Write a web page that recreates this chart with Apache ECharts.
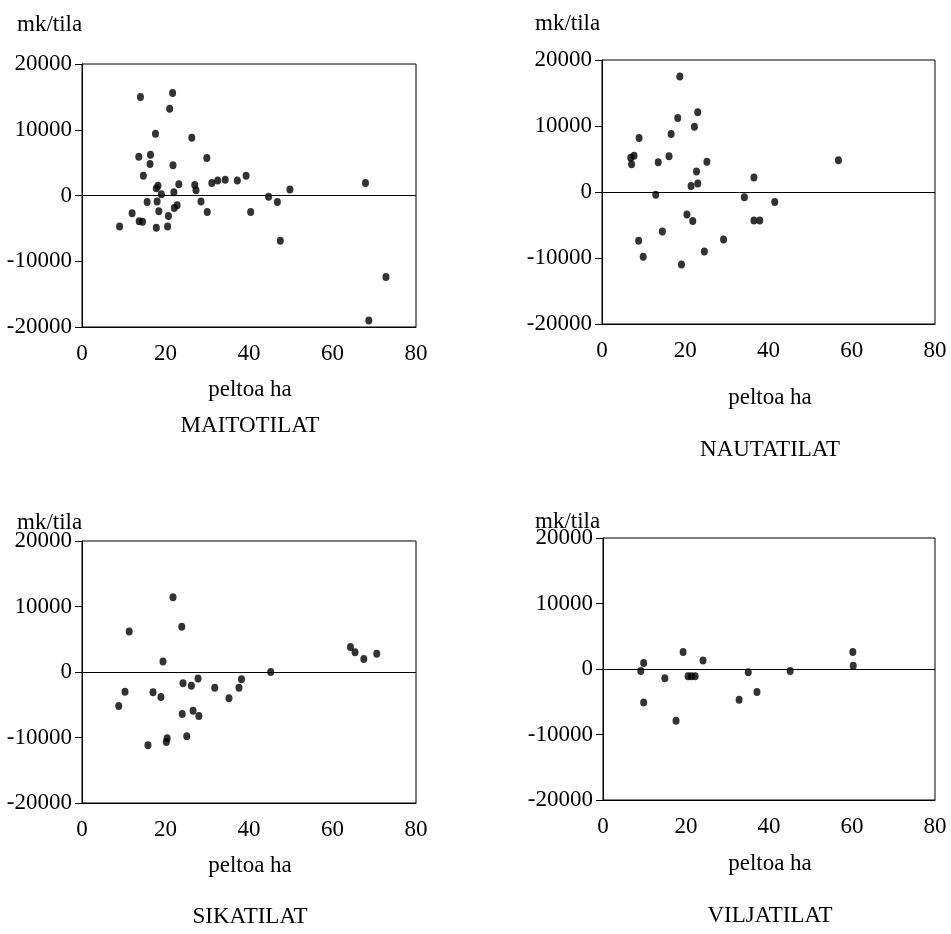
<!DOCTYPE html>
<html>
<head>
<meta charset="utf-8">
<script src="https://cdn.jsdelivr.net/npm/echarts@6/dist/echarts.min.js"></script>
<style>html,body{margin:0;padding:0;background:#fff}#c{width:951px;height:934px}</style>
</head>
<body>
<div id="c"></div>
<script>
// ---- data (x = peltoa ha, y = mk/tila) ----
const maitotilat = [[14.0,15000],[21.7,15600],[21.0,13200],[17.6,9400],[26.3,8800],[13.6,5900],[16.4,6200],[16.3,4800],[21.8,4600],[29.9,5700],[14.7,3000],[18.2,1500],[17.8,1100],[19.0,200],[22.0,500],[23.2,1700],[27.0,1600],[27.3,800],[31.1,1900],[32.5,2300],[34.3,2400],[37.2,2300],[39.3,3000],[15.6,-1000],[18.0,-900],[28.5,-900],[18.4,-2400],[22.8,-1500],[22.1,-1900],[30.0,-2500],[12.0,-2700],[20.7,-3100],[40.4,-2500],[9.0,-4700],[13.7,-3900],[14.5,-4000],[17.8,-4900],[20.5,-4700],[44.7,-200],[46.8,-1000],[49.8,900],[47.5,-6900],[67.9,1900],[72.8,-12400],[68.7,-19000]];
const nautatilat = [[18.7,17500],[23.0,12100],[18.2,11200],[22.2,9900],[16.6,8800],[8.9,8200],[6.9,5200],[7.7,5500],[7.1,4200],[13.5,4500],[16.1,5400],[25.2,4600],[22.7,3100],[21.4,900],[23.0,1300],[12.9,-400],[36.5,2200],[34.2,-800],[20.4,-3400],[21.8,-4400],[36.5,-4300],[37.9,-4300],[14.5,-6000],[8.8,-7400],[29.2,-7200],[9.9,-9800],[24.6,-9000],[19.1,-11000],[56.8,4800],[41.5,-1500]];
const sikatilat = [[21.8,11400],[23.9,6900],[11.3,6200],[19.4,1600],[10.3,-3000],[8.8,-5200],[17.0,-3100],[18.9,-3800],[24.2,-1700],[26.2,-2100],[27.8,-1000],[31.8,-2400],[35.2,-4000],[37.6,-2400],[38.2,-1100],[24.0,-6400],[26.6,-5900],[28.0,-6700],[15.8,-11200],[20.4,-10100],[20.2,-10700],[25.1,-9800],[45.2,0],[64.3,3800],[65.4,3000],[67.5,2000],[70.6,2800]];
const viljatilat = [[9.8,900],[9.1,-300],[9.8,-5100],[14.9,-1400],[19.3,2600],[17.6,-7900],[20.5,-1100],[21.3,-1100],[22.2,-1100],[24.1,1300],[35.0,-500],[32.8,-4700],[37.1,-3500],[45.1,-300],[60.2,2600],[60.3,500]];

const panelTitles = ['MAITOTILAT','NAUTATILAT','SIKATILAT','VILJATILAT'];
const panelData = [maitotilat, nautatilat, sikatilat, viljatilat];
const xTitle = 'peltoa ha';
const yTitle = 'mk/tila';
const xMin = 0, xMax = 80, xStep = 20;
const yMin = -20000, yMax = 20000, yStep = 10000;

// ---- layout ----
const FONT = '"Liberation Serif", "Times New Roman", serif';
const FS = 23;
const grids = [
  {left:82, top:64, width:334, height:263},
  {left:602, top:60, width:333, height:264},
  {left:82, top:541, width:334, height:262},
  {left:603, top:538, width:332, height:262}
];
const textPos = [
  {yt:[17,25], xt:[250,390], pt:[250,426]},
  {yt:[535,24], xt:[770,398], pt:[770,450]},
  {yt:[17,523], xt:[250,866], pt:[250,917]},
  {yt:[535,522], xt:[770,864], pt:[770,916]}
];

const chart = echarts.init(document.getElementById('c'), null, {renderer:'canvas'});
const option = {
  animation:false,
  backgroundColor:'#fff',
  grid: grids.map(g => Object.assign({show:true, borderColor:'#000', borderWidth:1, backgroundColor:'transparent', containLabel:false}, g)),
  xAxis: grids.map((g,i) => ({
    type:'value', gridIndex:i, min:xMin, max:xMax, interval:xStep,
    axisLine:{show:true, onZero:false, lineStyle:{color:'#000', width:1}},
    axisTick:{show:false}, splitLine:{show:false},
    axisLabel:{color:'#000', fontFamily:FONT, fontSize:FS, margin:15, formatter:v => String(v)}
  })),
  yAxis: [].concat(
    grids.map((g,i) => ({
      type:'value', gridIndex:i, min:yMin, max:yMax, interval:yStep,
      axisLine:{show:true, onZero:false, lineStyle:{color:'#000', width:1}},
      axisTick:{show:true, inside:false, length:7, lineStyle:{color:'#000'}},
      splitLine:{show:false},
      axisLabel:{color:'#000', fontFamily:FONT, fontSize:FS, margin:10, formatter:v => String(v)}
    })),
    grids.map((g,i) => ({
      type:'value', gridIndex:i, min:yMin, max:yMax, interval:yStep,
      axisLine:{show:false},
      axisTick:{show:true, inside:true, length:6, lineStyle:{color:'#000'}},
      splitLine:{show:false}, axisLabel:{show:false}
    }))
  ),
  series: panelData.map((d,i) => ({
    type:'scatter', xAxisIndex:i, yAxisIndex:i, data:d,
    symbol:'circle', symbolSize:[7,8],
    itemStyle:{color:'#000'},
    markLine:{silent:true, symbol:'none', label:{show:false},
      lineStyle:{color:'#000', type:'solid', width:1},
      data:[{yAxis:0}]}
  })),
  graphic: [].concat(...textPos.map((p,i) => [
    {type:'text', style:{text:yTitle, x:p.yt[0], y:p.yt[1], textAlign:'left', textVerticalAlign:'middle', font:FS+'px '+FONT, fill:'#000'}},
    {type:'text', style:{text:xTitle, x:p.xt[0], y:p.xt[1], textAlign:'center', textVerticalAlign:'middle', font:FS+'px '+FONT, fill:'#000'}},
    {type:'text', style:{text:panelTitles[i], x:p.pt[0], y:p.pt[1], textAlign:'center', textVerticalAlign:'middle', font:FS+'px '+FONT, fill:'#000'}}
  ]))
};
chart.setOption(option);
</script>
</body>
</html>
